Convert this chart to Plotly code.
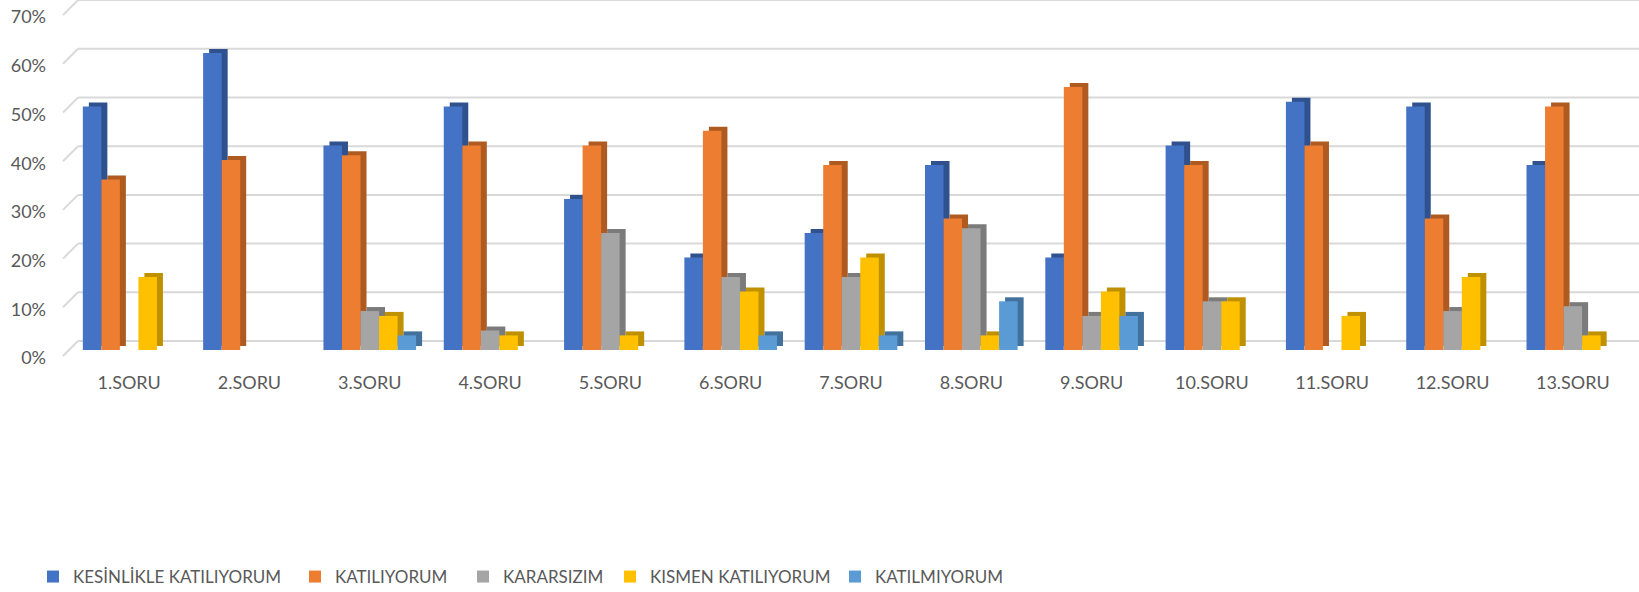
import plotly.graph_objects as go

# ---------------- data ----------------
categories = ["1.SORU", "2.SORU", "3.SORU", "4.SORU", "5.SORU", "6.SORU", "7.SORU",
              "8.SORU", "9.SORU", "10.SORU", "11.SORU", "12.SORU", "13.SORU"]
kesinlikle_katiliyorum = [50, 61, 42, 50, 31, 19, 24, 38, 19, 42, 51, 50, 38]
katiliyorum = [35, 39, 40, 42, 42, 45, 38, 27, 54, 38, 42, 27, 50]
kararsizim = [0, 0, 8, 4, 24, 15, 15, 25, 7, 10, 0, 8, 9]
kismen_katiliyorum = [15, 0, 7, 3, 3, 12, 19, 3, 12, 10, 7, 15, 3]
katilmiyorum = [0, 0, 3, 0, 0, 3, 3, 10, 7, 0, 0, 0, 0]
y_ticks = [0, 10, 20, 30, 40, 50, 60, 70]
y_tick_labels = ["0%", "10%", "20%", "30%", "40%", "50%", "60%", "70%"]

series = [
    ("KESİNLİKLE KATILIYORUM", kesinlikle_katiliyorum, "#4472C4", "#2F528F"),
    ("KATILIYORUM", katiliyorum, "#ED7D31", "#AE5A21"),
    ("KARARSIZIM", kararsizim, "#A5A5A5", "#7B7B7B"),
    ("KISMEN KATILIYORUM", kismen_katiliyorum, "#FFC000", "#BF9000"),
    ("KATILMIYORUM", katilmiyorum, "#5B9BD5", "#41719C"),
]
legend_x_px = [33, 295, 463, 610, 835]

# ---------------- geometry (pixels) ----------------
W, H = 1639, 592
ML, MR, MT, MB = 69, 6, 0, 232
PLOT_W = W - ML - MR
PLOT_H = H - MT - MB
PX_PER_PCT = 4.87
N = len(categories)
DEPTH_X = 6      # px, side face
DEPTH_Y = 4      # px, top face
WALL_X = 15      # px, back wall offset
WALL_Y = 15


def yrange(zero_px):
    lo = -(PLOT_H - zero_px) / PX_PER_PCT
    return [lo, lo + PLOT_H / PX_PER_PCT]


cat_px = PLOT_W / N
dx = DEPTH_X / cat_px

FONT = "Lato"
TXT = "#595959"

fig = go.Figure()

# shadow (3D side/top) bars on base subplot (drawn behind)
for name, vals, col, dark in series:
    fig.add_trace(go.Bar(x=categories, y=vals, name=name, marker=dict(color=dark, line=dict(width=0)),
                         showlegend=False, hoverinfo="skip", xaxis="x", yaxis="y"))
# front faces on overlay subplot, each with its own legend
legends = {}
for i, (name, vals, col, dark) in enumerate(series):
    lg = "legend" if i == 0 else f"legend{i + 1}"
    fig.add_trace(go.Bar(x=categories, y=vals, name=name, marker=dict(color=col, line=dict(width=0)),
                         xaxis="x2", yaxis="y2", legend=lg))
    legends[lg] = dict(orientation="h", xref="container", yref="container",
                       x=legend_x_px[i] / W, xanchor="left", y=1 - 577 / H, yanchor="middle",
                       font=dict(family=FONT, size=17, color=TXT), itemwidth=30,
                       bgcolor="rgba(0,0,0,0)")
# invisible trace so the label axis gets drawn
fig.add_trace(go.Scatter(x=[categories[0]], y=[y_ticks[0]], mode="markers", marker=dict(opacity=0),
                         showlegend=False, hoverinfo="skip", xaxis="x2", yaxis="y3"))

shapes = []
grid_zero = 341
for v in y_ticks:
    off = WALL_Y / PX_PER_PCT
    shapes.append(dict(type="line", xref="paper", yref="y4", layer="below",
                       x0=(63 - ML) / PLOT_W, x1=(63 + WALL_X - ML) / PLOT_W,
                       y0=v - off, y1=v, line=dict(color="#d9d9d9", width=2)))
    shapes.append(dict(type="line", xref="paper", yref="y4", layer="below",
                       x0=(63 + WALL_X - ML) / PLOT_W, x1=(W - ML) / PLOT_W,
                       y0=v, y1=v, line=dict(color="#d9d9d9", width=2)))

fig.update_layout(
    width=W, height=H,
    margin=dict(l=ML, r=MR, t=MT, b=MB, autoexpand=False),
    paper_bgcolor="white", plot_bgcolor="white",
    barmode="group", bargap=0.23, bargroupgap=0,
    font=dict(family=FONT, color=TXT, size=18),
    shapes=shapes,
    xaxis=dict(type="category", range=[-0.5 - dx, N - 0.5 - dx], showticklabels=False,
               showgrid=False, zeroline=False, showline=False, fixedrange=True),
    xaxis2=dict(type="category", range=[-0.5, N - 0.5], overlaying="x", side="bottom",
                showgrid=False, zeroline=False, showline=False, ticks="",
                tickfont=dict(family=FONT, size=18, color=TXT), ticklabelstandoff=10),
    yaxis=dict(range=yrange(350 - DEPTH_Y), visible=False, showgrid=False, zeroline=False),
    yaxis2=dict(range=yrange(350), overlaying="y", visible=False, showgrid=False, zeroline=False),
    yaxis3=dict(range=yrange(358), overlaying="y", side="left", anchor="x2",
                tickmode="array", tickvals=y_ticks, ticktext=y_tick_labels,
                showgrid=False, zeroline=False, showline=False,
                ticks="", ticklabelstandoff=22, tickfont=dict(family=FONT, size=18, color=TXT)),
    yaxis4=dict(range=yrange(grid_zero), overlaying="y", visible=False, showgrid=False, zeroline=False),
    showlegend=True,
    **legends,
)

fig.write_html("out.html", config={"displayModeBar": False},
               post_script="document.body.style.margin='0';")
